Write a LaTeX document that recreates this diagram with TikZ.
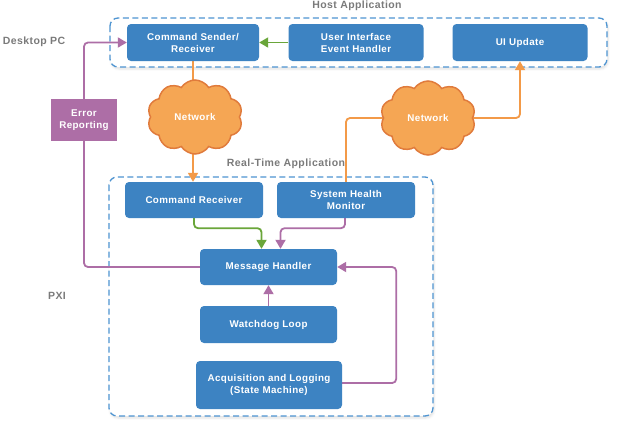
\documentclass[tikz,border=0pt]{standalone}
\usepackage{fontspec}
\setmainfont{Liberation Sans}
\newfontfamily\diagfont[LetterSpace=4]{Liberation Sans}
\usetikzlibrary{shapes.symbols,arrows.meta,backgrounds,shadows.blur}

\definecolor{boxblue}{HTML}{3D83C2}
\definecolor{dashblue}{HTML}{4E94D1}
\definecolor{linkpurple}{HTML}{AD6EA6}
\definecolor{linkgreen}{HTML}{6AA63A}
\definecolor{linkorange}{HTML}{F39A48}
\definecolor{cloudfill}{HTML}{F5A654}
\definecolor{cloudedge}{HTML}{E07B3C}
\definecolor{labelgray}{HTML}{7A7A7A}

\begin{document}
\begin{tikzpicture}[x=1pt,y=-1pt,
    block/.style={fill=boxblue, rounded corners=4pt, text=white, align=center,
        inner sep=0pt, font=\diagfont\bfseries\fontsize{9.8}{12}\selectfont},
    container/.style={draw=dashblue, fill=white, line width=1.3pt, dash pattern=on 6pt off 3.5pt,
        rounded corners=8pt, blur shadow={shadow xshift=1pt, shadow yshift=-2pt, shadow opacity=12}},
    net/.style={cloud, cloud puffs=10, cloud puff arc=115, aspect=1.3, fill=cloudfill,
        draw=cloudedge, line width=1.5pt, text=white, minimum width=95pt, minimum height=74pt,
        font=\diagfont\bfseries\fontsize{9.8}{12}\selectfont},
    area/.style={text=labelgray, font=\diagfont\bfseries\fontsize{10.5}{12}\selectfont},
    link/.style={line width=1.8pt, rounded corners=4pt, -{Triangle[length=9pt,width=10pt]}}
]
    \useasboundingbox (0,0) rectangle (623,432);

    % Area labels
    \node[area] (hostlbl) at (357,6) {Host Application};
    \node[area] (pclbl) at (34,42) {Desktop PC};
    \node[area] (rtlbl) at (286,164) {Real-Time Application};
    \node[area] (pxilbl) at (57,296) {PXI};

    % Host blocks
    \node[block, minimum width=132pt, minimum height=37pt] (csr) at (193,42.5) {Command Sender/\\Receiver};
    \node[block, minimum width=135pt, minimum height=37pt] (uieh) at (356,42.5) {User Interface\\Event Handler};
    \node[block, minimum width=135pt, minimum height=37pt] (uiu) at (520,42.5) {UI Update};

    % Real-time blocks
    \node[block, minimum width=138pt, minimum height=36pt] (cr) at (194,200) {Command Receiver};
    \node[block, minimum width=138pt, minimum height=36pt] (shm) at (346,200) {System Health\\Monitor};
    \node[block, minimum width=137pt, minimum height=36pt] (mh) at (268.5,267) {Message Handler};
    \node[block, minimum width=137pt, minimum height=37pt] (wd) at (268.5,324.5) {Watchdog Loop};
    \node[block, minimum width=146pt, minimum height=48pt] (acq) at (269,385) {Acquisition and Logging\\(State Machine)};

    % Error reporting
    \node[block, fill=linkpurple, rounded corners=0pt, minimum width=66pt, minimum height=42pt] (err) at (84,120) {Error\\Reporting};

    % Networks
    \node[net] (net1) at (195,117) {Network};
    \node[net] (net2) at (428,118) {Network};

    \begin{pgfonlayer}{background}
        % Containers
        \draw[container] (110,18) rectangle (607,67);
        \draw[container] (109,177) rectangle (433,416);

        % Connectors
        \draw[link, linkgreen] (uieh.west) -- (csr.east);
        \draw[link, linkorange] (csr.south) -- (csr.south |- cr.north);
        \draw[link, linkorange] (shm.north) |- (net2.center) -| (uiu.south);
        \draw[link, linkgreen] (cr.south) -- ++(0,10) -| ([xshift=-7pt]mh.north);
        \draw[link, linkpurple] ([xshift=-1pt]shm.south) -- ++(0,10) -| ([xshift=12pt]mh.north);
        \draw[link, linkpurple] (wd.north) -- (mh.south);
        \draw[link, linkpurple] ([yshift=2pt]acq.east) -- ++(54,0) |- (mh.east);
        \draw[link, linkpurple] (mh.west) -| (err.center) |- (csr.west);
    \end{pgfonlayer}
\end{tikzpicture}
\end{document}
